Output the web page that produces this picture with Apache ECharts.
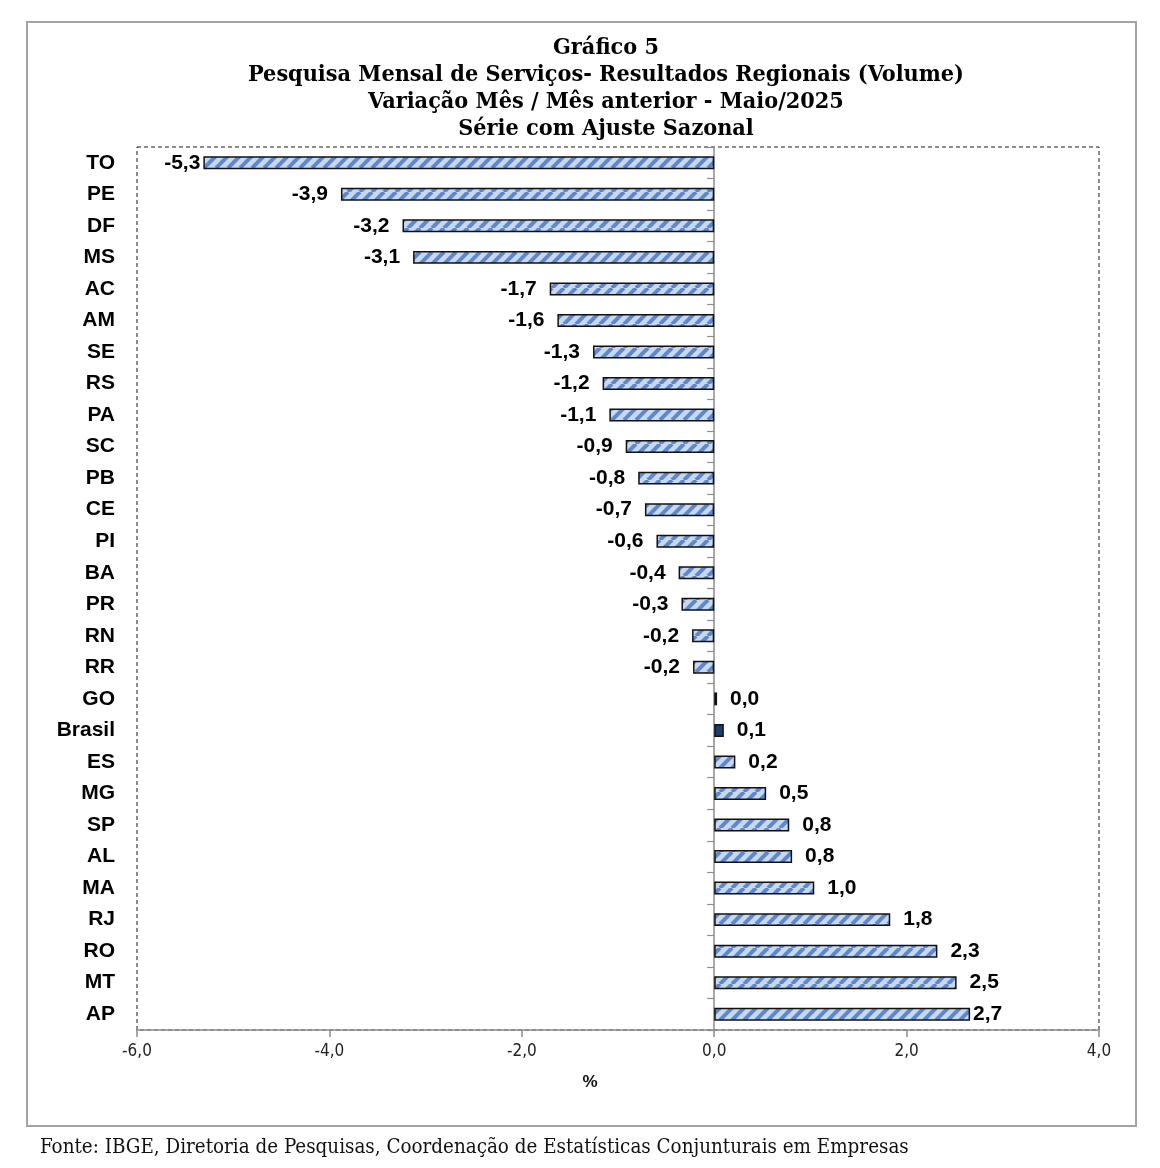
<!DOCTYPE html>
<html>
<head>
<meta charset="utf-8">
<script src="https://cdn.jsdelivr.net/npm/echarts@6/dist/echarts.min.js"></script>
<style>html,body{margin:0;padding:0;background:#fff}#c{width:1160px;height:1168px}</style>
</head>
<body>
<div id="c"></div>
<script>
const categories = ['TO','PE','DF','MS','AC','AM','SE','RS','PA','SC','PB','CE','PI','BA','PR','RN','RR','GO','Brasil','ES','MG','SP','AL','MA','RJ','RO','MT','AP'];
const values = [-5.31,-3.88,-3.24,-3.13,-1.71,-1.63,-1.26,-1.16,-1.09,-0.92,-0.79,-0.72,-0.60,-0.37,-0.34,-0.23,-0.22,0.03,0.10,0.22,0.54,0.78,0.81,1.04,1.83,2.32,2.52,2.66];
const xTicks = [-6, -4, -2, 0, 2, 4];
const titleLines = ['Gráfico 5','Pesquisa Mensal de Serviços- Resultados Regionais (Volume)','Variação Mês / Mês anterior - Maio/2025','Série com Ajuste Sazonal'];
const sourceText = 'Fonte: IBGE, Diretoria de Pesquisas, Coordenação de Estatísticas Conjunturais em Empresas';
const highlight = 'Brasil';

function fitSize(text, family, weight, target){
  const ctx = document.createElement('canvas').getContext('2d');
  ctx.font = weight + ' 100px ' + family;
  const w = ctx.measureText(text).width;
  return Math.round(100 * target / w * 10) / 10;
}
const titleFamily = '"DejaVu Serif Condensed", "Liberation Serif", serif';
const titleSize = Math.min(24, fitSize(titleLines[1], titleFamily, 'bold', 716));
const footFamily = '"DejaVu Serif Condensed", "Liberation Serif", serif';
const footSize = Math.min(23, fitSize(sourceText, footFamily, 'normal', 870));

function makePattern(){
  const w = 12, h = 12;
  const cv = document.createElement('canvas');
  cv.width = w; cv.height = h;
  const ctx = cv.getContext('2d');
  ctx.fillStyle = '#c8d8f1';
  ctx.fillRect(0,0,w,h);
  ctx.strokeStyle = '#5d89cc';
  ctx.lineWidth = 4;
  for (let k=-1;k<=1;k++){
    ctx.beginPath();
    ctx.moveTo(k*w, h);
    ctx.lineTo(k*w + w, 0);
    ctx.stroke();
  }
  return cv;
}
const pattern = {image: makePattern(), repeat: 'repeat'};

const chart = echarts.init(document.getElementById('c'));
const seriesData = values.map((v,i)=>{
  const d = {value: v, label: {position: v < 0 ? 'left' : 'right'}};
  if (categories[i] === highlight) d.itemStyle = {color: '#1f3d70'};
  if (i === 0 || i === values.length-1) d.label.distance = 3;
  return d;
});

chart.setOption({
  animation: false,
  backgroundColor: '#fff',
  grid: {left: 137, right: 61, top: 147, bottom: 138, show: true, borderColor: '#1a1a1a', borderWidth: 1, borderType: [4,3]},
  xAxis: {
    type: 'value', min: -6, max: 4, interval: 2,
    splitLine: {show: false},
    axisLine: {show: true, onZero: false, lineStyle: {color: '#8c8c8c', width: 1.5}},
    axisTick: {show: true, length: 7, lineStyle: {color: '#8c8c8c', width: 1.5}},
    axisLabel: {margin: 13, color: '#222', fontFamily: '"Liberation Sans Narrow", "DejaVu Sans Condensed", sans-serif', fontSize: 17,
      formatter: v => xTicks.includes(v) ? v.toFixed(1).replace('.', ',') : ''}
  },
  yAxis: [
    {type: 'category', data: categories, inverse: true,
      axisLine: {show: false, onZero: false}, axisTick: {show: false},
      axisLabel: {margin: 22, color: '#000', fontFamily: '"Liberation Sans", Arial, sans-serif', fontWeight: 'bold', fontSize: 21}},
    {type: 'category', data: categories, inverse: true, position: 'left',
      axisLine: {show: true, onZero: true, lineStyle: {color: '#8c8c8c', width: 1.5}},
      axisTick: {show: true, length: 7, lineStyle: {color: '#8c8c8c', width: 1.2}},
      axisLabel: {show: false}}
  ],
  series: [{
    type: 'bar', yAxisIndex: 0, data: seriesData, barWidth: '41%',
    itemStyle: {color: pattern, borderColor: '#111', borderWidth: 1.5},
    label: {show: true, distance: 13, color: '#000',
      fontFamily: '"Liberation Sans", Arial, sans-serif', fontWeight: 'bold', fontSize: 21,
      formatter: p => p.value.toFixed(1).replace('.', ',')}
  }],
  graphic: [
    {type: 'rect', shape: {x: 27, y: 22, width: 1109, height: 1104}, style: {fill: 'none', stroke: '#a3a3a3', lineWidth: 2}, z: -1},
    {type: 'text', style: {text: titleLines.join('\n'), x: 606, y: 34, textAlign: 'center', textVerticalAlign: 'top',
      font: 'bold ' + titleSize + 'px ' + titleFamily, lineHeight: 27, fill: '#000'}},
    {type: 'text', style: {text: '%', x: 590, y: 1082, textAlign: 'center', textVerticalAlign: 'middle',
      font: 'bold 17px "Liberation Sans", sans-serif', fill: '#111'}},
    {type: 'text', style: {text: sourceText, x: 40, y: 1148, textAlign: 'left', textVerticalAlign: 'middle',
      font: footSize + 'px ' + footFamily, fill: '#111'}}
  ]
});
</script>
</body>
</html>
